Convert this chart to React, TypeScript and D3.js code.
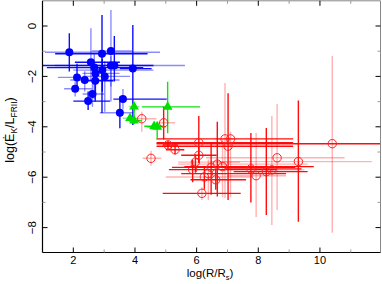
import React from 'react';
import * as d3 from 'd3';

// ---- data (log R/Rs, log Ek/L) ----
const blueX = [1.87, 2.93, 3.22, 2.57, 2.68, 3.22, 3.33, 3.93, 2.94, 2.72, 2.12, 2.37, 3.02, 2.71, 2.06, 2.62, 3.61, 2.48, 3.51];
const blueY = [-1.04, -1.10, -0.99, -1.44, -1.65, -1.57, -1.57, -1.69, -1.75, -1.88, -2.04, -2.14, -2.00, -2.17, -2.49, -2.70, -2.90, -2.98, -3.44];
const blueXLo = [1.08, 1.41, 2.6, 2.05, 1.14, 1.4, 1.0, 3.51, 2.0, 2.3, 1.5, 1.9, 2.32, 2.3, 1.7, 2.3, 3.3, 2.0, 2.86];
const blueXHi = [4.81, 4.41, 3.9, 3.51, 4.27, 5.62, 4.6, 4.54, 4.6, 3.5, 2.44, 3.5, 3.84, 3.3, 2.6, 3.0, 5.03, 3.19, 3.95];
const blueYHi = [-0.29, 0.44, 0.63, -0.09, -1.1, -1.2, -0.4, 0.04, -1.3, -1.5, -1.5, -1.8, -1.4, -1.9, -2.2, -2.3, -2.5, -2.6, -2.8];
const blueYLo = [-1.81, -3.45, -2.4, -2.14, -2.9, -3.0, -2.2, -3.93, -2.6, -2.8, -2.5, -2.6, -3.4, -3.0, -2.8, -3.2, -3.3, -3.33, -4.06];
const blueQx = [0, 1, 0, 1, 1, 0, 1, 1, 0, 0, 0, 0, 0, 1, 0, 0, 1, 1, 0];
const blueQy = [1, 1, 0, 0, 0, 0, 1, 1, 1, 0, 1, 0, 0, 1, 0, 0, 0, 1, 1];

const greenX = [3.97, 5.06, 3.84, 3.97, 4.62, 4.72];
const greenY = [-3.20, -3.21, -3.66, -3.76, -3.98, -4.00];
const greenXLo = [3.8, 4.22, 3.6, 3.8, 4.3, 4.4];
const greenXHi = [4.15, 6.11, 4.1, 4.22, 4.9, 5.0];
const greenYHi = [-3.0, -2.21, -3.5, -3.2, -3.9, -3.8];
const greenYLo = [-3.4, -4.26, -3.8, -3.9, -4.1, -4.5];
const greenQx = [0, 1, 0, 1, 1, 1];
const greenQy = [0, 1, 0, 1, 0, 1];

const redX = [4.22, 4.93, 6.07, 6.92, 7.10, 7.02, 5.07, 5.30, 4.52, 6.07, 8.61, 9.30, 10.40, 5.87, 5.96, 6.47, 6.38, 6.25, 6.62, 6.67, 6.84, 7.76, 7.93, 8.26, 8.44, 6.17];
const redY = [-3.68, -3.84, -4.63, -4.48, -4.48, -4.77, -4.72, -4.91, -5.25, -5.13, -5.23, -5.38, -4.67, -5.70, -5.40, -5.61, -5.86, -5.99, -6.10, -5.48, -5.58, -5.67, -5.94, -5.78, -5.71, -6.64];
const redXLo = [3.85, 4.75, 4.70, 6.6, 4.70, 4.70, 4.90, 5.0, 4.25, 5.5, 6.3, 6.45, 4.70, 5.1, 5.4, 5.2, 5.5, 5.0, 5.8, 5.4, 5.6, 6.9, 7.0, 7.2, 7.8, 4.9];
const redXHi = [4.70, 5.30, 9.13, 7.3, 9.13, 9.13, 5.40, 5.6, 4.85, 6.65, 10.8, 11.68, 12.5, 8.6, 7.4, 9.2, 8.9, 7.8, 7.6, 9.6, 9.8, 9.4, 8.9, 9.6, 9.5, 7.43];
const redYHi = [-3.40, -3.20, -3.57, -2.26, -4.2, -2.67, -4.55, -4.7, -4.95, -4.8, -3.1, -2.96, -1.19, -5.3, -5.1, -4.6, -5.3, -5.6, -5.7, -3.8, -4.5, -4.25, -4.25, -4.05, -3.57, -6.4];
const redYLo = [-4.20, -4.50, -5.44, -6.83, -6.8, -6.90, -4.90, -5.1, -5.55, -5.4, -7.3, -7.77, -8.2, -6.2, -5.8, -6.7, -6.9, -6.5, -6.5, -6.77, -6.8, -7.0, -7.58, -7.5, -7.9, -6.9];
const redQx = [0, 0, 1, 0, 1, 1, 1, 1, 0, 1, 0, 0, 1, 1, 0, 1, 1, 0, 1, 0, 1, 1, 0, 1, 0, 1];
const redQy = [0, 1, 1, 0, 0, 1, 1, 1, 0, 1, 0, 1, 0, 1, 1, 1, 0, 1, 1, 1, 0, 1, 0, 1, 0, 0];

const xTicks = [2, 3, 4, 5, 6, 7, 8, 9, 10, 11];
const yTicks = [-8, -7, -6, -5, -4, -3, -2, -1, 0];

const W = 382, H = 284;
const FONT = 'Liberation Sans, Arial, Helvetica, sans-serif';

export default function App() {
  const x = d3.scaleLinear().domain([1, 12]).range([42.5, 381.6]);
  const y = d3.scaleLinear().domain([-9, 1]).range([252.8, 0.8]);
  const L = 42.5, R = 380.5, T = 0.8, B = 252.5;

  const bars = (xs: number[], ys: number[], xlo: number[], xhi: number[], yhi: number[], ylo: number[], qx: number[], qy: number[], color: string, weak: number, key: string) =>
    xs.map((xv, i) => (
      <g key={key + i}>
        <line x1={x(xlo[i])} x2={x(xhi[i])} y1={y(ys[i])} y2={y(ys[i])} stroke={color} strokeWidth={1.4} strokeOpacity={qx[i] ? 0.95 : weak} />
        <line x1={x(xv)} x2={x(xv)} y1={y(yhi[i])} y2={y(ylo[i])} stroke={color} strokeWidth={1.4} strokeOpacity={qy[i] ? 0.95 : weak} />
      </g>
    ));

  const tri = d3.symbol().type(d3.symbolTriangle).size(42)() as string;

  return (
    <svg width={W} height={H} style={{ position: 'absolute', left: 0, top: 0, background: '#fff' }} fontFamily={FONT}>
      <defs>
        <clipPath id="plotclip"><rect x={L} y={T} width={R - L} height={B - T} /></clipPath>
      </defs>
      <g clipPath="url(#plotclip)">
        {bars(redX, redY, redXLo, redXHi, redYHi, redYLo, redQx, redQy, '#ff0000', 0.3, 'rb')}
        {bars(blueX, blueY, blueXLo, blueXHi, blueYHi, blueYLo, blueQx, blueQy, '#0000ff', 0.45, 'bb')}
        {bars(greenX, greenY, greenXLo, greenXHi, greenYHi, greenYLo, greenQx, greenQy, '#00e000', 0.45, 'gb')}
        {redX.map((xv, i) => (
          <circle key={'rc' + i} cx={x(xv)} cy={y(redY[i])} r={4.2} fill="none" stroke="#ff2020" strokeWidth={1} />
        ))}
        {blueX.map((xv, i) => (
          <circle key={'bc' + i} cx={x(xv)} cy={y(blueY[i])} r={4} fill="#0000ff" />
        ))}
        {greenX.map((xv, i) => (
          <path key={'gt' + i} d={tri} transform={`translate(${x(xv)},${y(greenY[i])})`} fill="#00e000" />
        ))}
      </g>
      {/* frame */}
      <line x1={L} x2={R} y1={T} y2={T} stroke="#888" strokeWidth={1} />
      <line x1={R} x2={R} y1={T} y2={B} stroke="#888" strokeWidth={1} />
      <line x1={L} x2={L} y1={T} y2={B} stroke="#000" strokeWidth={1.2} />
      <line x1={L} x2={R} y1={B} y2={B} stroke="#000" strokeWidth={1.2} />
      {/* ticks */}
      {xTicks.map(v => {
        const major = v % 2 === 0;
        const len = major ? 5 : 3;
        const c = major ? '#000' : '#999';
        return (
          <g key={'xt' + v}>
            <line x1={x(v)} x2={x(v)} y1={B} y2={B - len} stroke={c} strokeWidth={1} />
            <line x1={x(v)} x2={x(v)} y1={T} y2={T + len} stroke={c} strokeWidth={1} />
            {major && <text x={x(v)} y={263.5} fontSize={11} textAnchor="middle" fill="#000">{v}</text>}
          </g>
        );
      })}
      {yTicks.map(v => {
        const major = v % 2 === 0;
        const len = major ? 5 : 3;
        const c = major ? '#000' : '#999';
        return (
          <g key={'yt' + v}>
            <line x1={L} x2={L + len} y1={y(v)} y2={y(v)} stroke={c} strokeWidth={1} />
            <line x1={R} x2={R - len} y1={y(v)} y2={y(v)} stroke={c} strokeWidth={1} />
            {major && (
              <text transform={`translate(36,${y(v)}) rotate(-90)`} fontSize={11.5} textAnchor="middle" fill="#000">
                {v < 0 ? '\u2212' + Math.abs(v) : String(v)}
              </text>
            )}
          </g>
        );
      })}
      {/* axis titles */}
      <text x={210} y={277} fontSize={11.5} textAnchor="middle" fill="#000">
        log(R/R<tspan fontSize={7.5} dy={2.5}>s</tspan><tspan dy={-2.5}>)</tspan>
      </text>
      <text transform={`translate(14,130) rotate(-90)`} fontSize={12.5} textAnchor="middle" fill="#000">
        log(Ė<tspan fontSize={8.5} dy={2.5}>K</tspan><tspan dy={-2.5}>/L</tspan><tspan fontSize={8.5} dy={2.5}>FRII</tspan><tspan dy={-2.5}>)</tspan>
      </text>
    </svg>
  );
}
